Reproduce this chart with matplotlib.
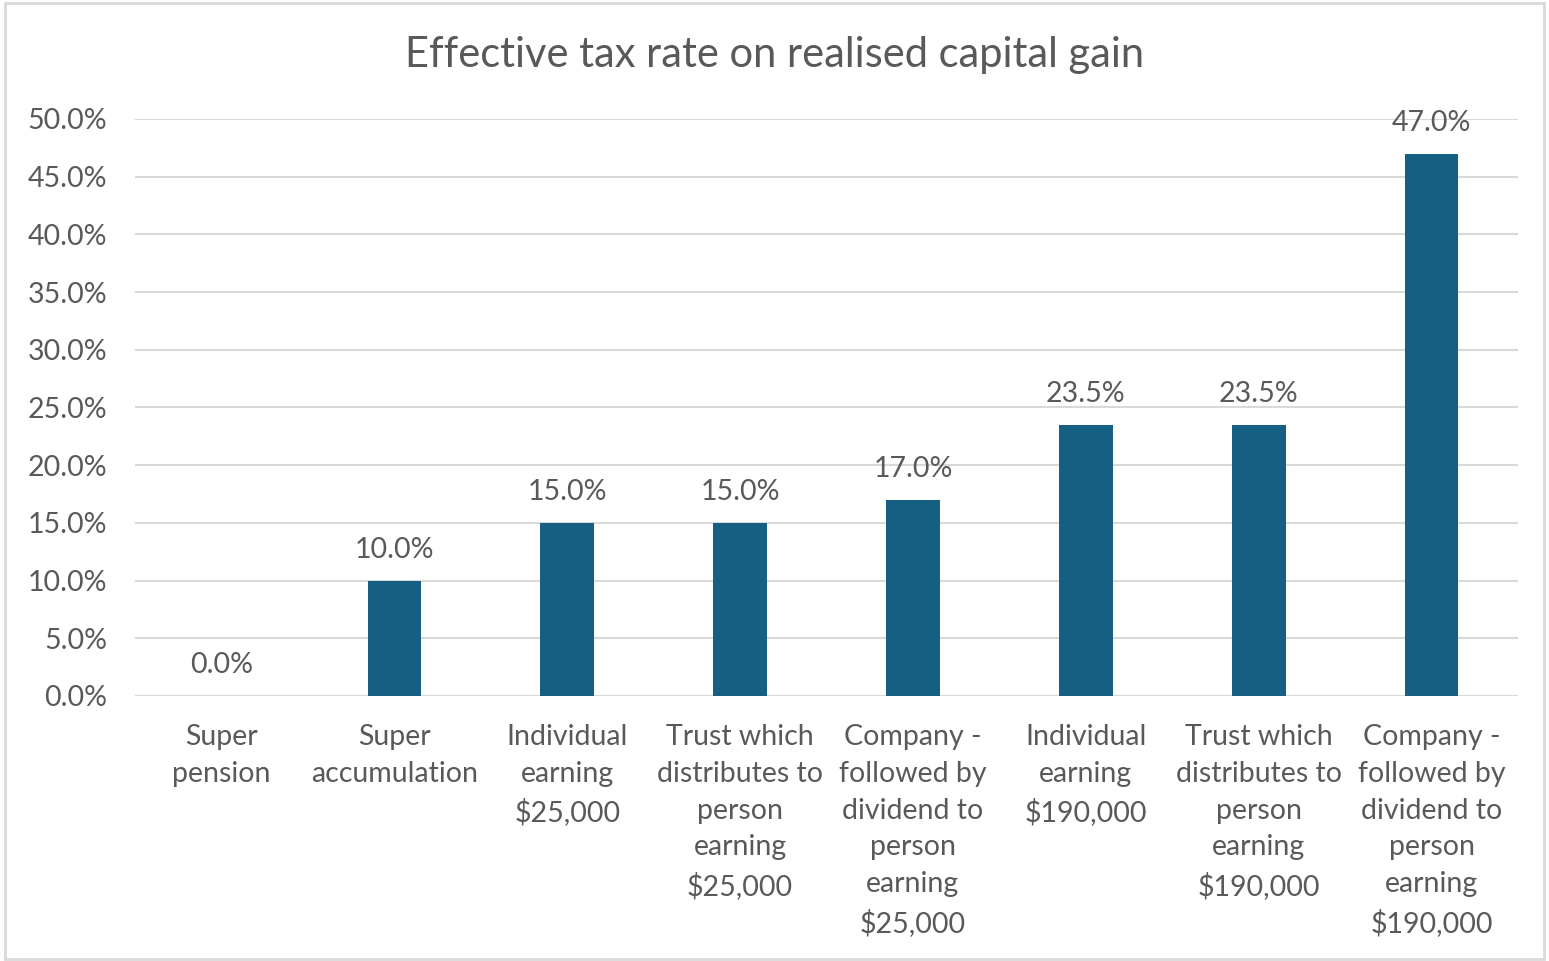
"""Effective tax rate on realised capital gain - bar chart"""

import numpy as np
import matplotlib.pyplot as plt
from matplotlib.patches import Rectangle

# Data -----------------------------------------------
categories = ['Super\npension',
              'Super\naccumulation',
              'Individual\nearning\n$25,000',
              'Trust which\ndistributes to\nperson\nearning\n$25,000',
              'Company -\nfollowed by\ndividend to\nperson\nearning\n$25,000',
              'Individual\nearning\n$190,000',
              'Trust which\ndistributes to\nperson\nearning\n$190,000',
              'Company -\nfollowed by\ndividend to\nperson\nearning\n$190,000']
rates = [0.0, 10.0, 15.0, 15.0, 17.0, 23.5, 23.5, 47.0]
yticks = np.arange(0, 50.1, 5)
title = 'Effective tax rate on realised capital gain'

# Style ----------------------------------------------
plt.rcParams['font.family'] = ['Lato', 'DejaVu Sans']
bar_color = '#156082'
text_color = '#595959'
grid_color = '#d9d9d9'

fig = plt.figure(figsize=(15.49, 9.61), dpi=100)
ax = fig.add_axes([0.0872, 0.2758, 0.8928, 0.6004])

x = np.arange(len(categories))
bars = ax.bar(x, rates, width=0.31, color=bar_color, zorder=3)

ax.set_ylim(0, 50)
ax.set_xlim(-0.5, len(categories) - 0.5)
ax.set_yticks(yticks)
ax.set_yticklabels([f'{v:.1f}%' for v in yticks])
ax.set_xticks(x)
ax.set_xticklabels(categories, linespacing=1.52)

ax.grid(axis='y', color=grid_color, linewidth=1.5, zorder=0)
for side in ['top', 'right', 'left', 'bottom']:
    ax.spines[side].set_visible(False)
ax.tick_params(axis='both', length=0, labelsize=20.5, colors=text_color)
ax.tick_params(axis='y', pad=20)
ax.tick_params(axis='x', pad=20)
for lbl in ax.get_xticklabels():
    lbl.set_verticalalignment('top')

# Value labels above the bars
for xi, val in zip(x, rates):
    ax.annotate(f'{val:.1f}%', (xi, val), xytext=(0, 13),
                textcoords='offset points', ha='center', va='bottom',
                fontsize=20.5, color=text_color)

fig.suptitle(title, y=0.963, fontsize=30, color=text_color)

# Light frame around the chart area
fig.patches.append(Rectangle((0.003, 0.002), 0.994, 0.995,
                             transform=fig.transFigure, fill=False,
                             edgecolor=grid_color, linewidth=2))

fig.savefig('out.png', dpi=100, facecolor='white')
